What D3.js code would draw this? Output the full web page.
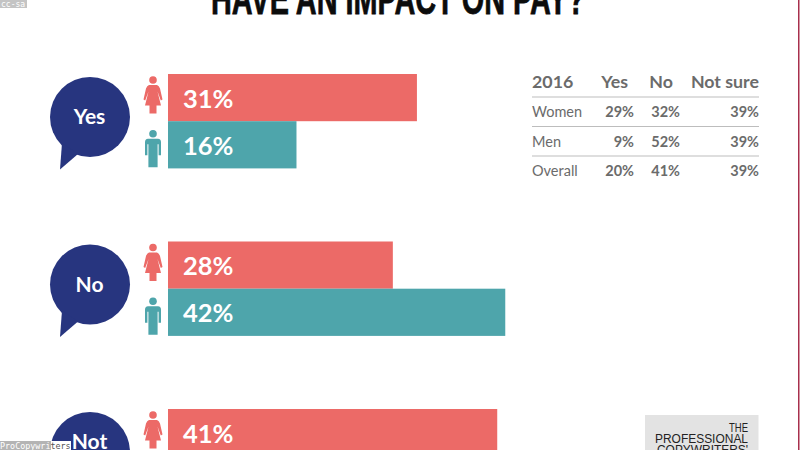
<!DOCTYPE html>
<html><head><meta charset="utf-8">
<style>html,body{margin:0;padding:0;background:#fff;overflow:hidden}svg{display:block}text{font-family:Lato,sans-serif}</style>
<script src="https://cdn.jsdelivr.net/npm/d3@7"></script></head><body>
<svg id="c" width="800" height="450"></svg>
<script>
const answers = ["Yes", "No", "Not"];
const women = [31, 28, 41];
const men = [16, 42, null];
const tableHead = ["2016", "Yes", "No", "Not sure"];
const tableRows = ["Women", "Men", "Overall"];
const tableYes = [29, 9, 20];
const tableNo = [32, 52, 41];
const tableNotSure = [39, 39, 39];

const svg = d3.select("#c");
const RED = "#ec6a67", TEAL = "#4ea5ab", NAVY = "#27357f", GREY = "#6b6b6b";
const x = d3.scaleLinear().domain([0, 100]).range([168, 971]);
const y = d3.scalePoint().domain(answers).range([74, 409]);
const barH = 47.2;

// frame edge, title
svg.append("rect").attr("x", 798).attr("y", 0).attr("width", 1.5).attr("height", 450).attr("fill", "#a8304c");
svg.append("text").attr("x", 211).attr("y", 14).attr("textLength", 374).attr("lengthAdjust", "spacingAndGlyphs")
  .style("font-family", "'Liberation Sans Narrow','Liberation Sans'").style("font-weight", 700).style("font-size", "45px")
  .attr("fill", "#0c0c0c").attr("stroke", "#0c0c0c").attr("stroke-width", 0.8).text("HAVE AN IMPACT ON PAY?");

// speech bubbles
const bubbleR = 40;
const g = svg.selectAll("g.group").data(answers).join("g").attr("class", "group")
  .attr("transform", d => `translate(0,${y(d)})`);
g.append("circle").attr("cx", 90).attr("cy", 43).attr("r", bubbleR).attr("fill", NAVY);
g.append("path").attr("d", "M62,69 L60,95.5 L78,80 Z").attr("fill", NAVY);

// pictograms
function woman(sel) {
  sel.append("circle").attr("cx", 0).attr("cy", 4.5).attr("r", 3.8);
  sel.append("path").attr("d", "M-4,9.5 L4,9.5 Q6,10 7,13 L9.5,24 L7.8,25 L4.5,16 L8,30 L3.5,30 L3.5,38 L-3.5,38 L-3.5,30 L-8,30 L-4.5,16 L-7.8,25 L-9.5,24 L-7,13 Q-6,10 -4,9.5 Z");
}
function man(sel) {
  sel.append("circle").attr("cx", 0).attr("cy", 4.5).attr("r", 3.8);
  sel.append("path").attr("d", "M-5,9.5 L5,9.5 Q8,9.5 8,13 L8,26 L5.6,26 L5.6,15 L4.6,15 L4.6,38 L-4.6,38 L-4.6,15 L-5.6,15 L-5.6,26 L-8,26 L-8,13 Q-8,9.5 -5,9.5 Z");
}

// bars
answers.forEach((a, i) => {
  const top = y(a);
  const rows = [
    { v: women[i], c: RED, off: 0, icon: woman, iconY: 1.5 },
    { v: men[i], c: TEAL, off: barH, icon: man, iconY: 8 }
  ].filter(r => r.v !== null);
  rows.forEach(r => {
    svg.append("rect").attr("x", x(0)).attr("y", top + r.off).attr("width", x(r.v) - x(0)).attr("height", barH).attr("fill", r.c);
    svg.append("text").attr("x", x(0) + 15).attr("y", top + r.off + 33.5).attr("fill", "#fff")
      .style("font-weight", 700).style("font-size", "25.5px").text(r.v + "%");
    svg.append("g").attr("transform", `translate(153,${top + r.off + r.iconY})`).attr("fill", r.c).call(r.icon);
  });
});

// 2016 table
const colsX = [532, 628, 673, 759];
const colsAnchor = ["start", "end", "end", "end"];
const valEnd = [634, 680, 759];
const rowY = d3.scalePoint().domain(tableRows).range([117, 176]);
tableHead.forEach((t, i) => svg.append("text").attr("x", colsX[i]).attr("y", 88).attr("text-anchor", colsAnchor[i])
  .attr("fill", GREY).style("font-weight", 700).style("font-size", "17.8px").text(t));
[97, 126.5, 156].forEach(v => svg.append("line").attr("x1", 532).attr("x2", 759).attr("y1", v).attr("y2", v)
  .attr("stroke", "#bdbdbd").attr("stroke-width", 1.2));
tableRows.forEach((r, i) => {
  svg.append("text").attr("x", 532).attr("y", rowY(r)).attr("fill", GREY).style("font-size", "14.5px").text(r);
  [tableYes[i], tableNo[i], tableNotSure[i]].forEach((v, k) =>
    svg.append("text").attr("x", valEnd[k]).attr("y", rowY(r)).attr("text-anchor", "end").attr("fill", GREY)
      .style("font-weight", 700).style("font-size", "14.5px").text(v + "%"));
});

// logo block
svg.append("rect").attr("x", 645).attr("y", 415).attr("width", 113.5).attr("height", 35).attr("fill", "#e3e3e3");
[["THE", 432, 19], ["PROFESSIONAL", 443, 93], ["COPYWRITERS'", 454, 91]].forEach(([t, b, w]) =>
  svg.append("text").attr("x", 748).attr("y", b).attr("text-anchor", "end").attr("fill", "#222")
    .attr("textLength", w).attr("lengthAdjust", "spacingAndGlyphs")
    .style("font-family", "'Liberation Sans'").style("font-size", "12.5px").text(t));

// source marks
svg.append("rect").attr("x", 0).attr("y", 0).attr("width", 27).attr("height", 8).attr("fill", "#c4c4c4");
svg.append("text").attr("x", 1).attr("y", 7).attr("fill", "#fff").style("font-family", "'DejaVu Sans Mono'").style("font-size", "8px").text("cc-sa");
svg.append("rect").attr("x", 0).attr("y", 441).attr("width", 51).attr("height", 9).attr("fill", "#b4b4b4");
svg.append("rect").attr("x", 51).attr("y", 441).attr("width", 20).attr("height", 9).attr("fill", "#fff");
const mark = svg.append("text").attr("x", 0).attr("y", 449).style("font-family", "'DejaVu Sans Mono'").style("font-size", "8.4px");
mark.append("tspan").attr("fill", "#fff").text("ProCopywri");
mark.append("tspan").attr("fill", "#555").text("ters");

// bubble labels sit above the source mark
answers.forEach((a, i) => svg.append("text").attr("x", 89.5).attr("y", i < 2 ? y(a) + 50 : 449)
  .attr("text-anchor", "middle").attr("fill", "#fff").style("font-weight", 700).style("font-size", "21px").text(a));
</script></body></html>
